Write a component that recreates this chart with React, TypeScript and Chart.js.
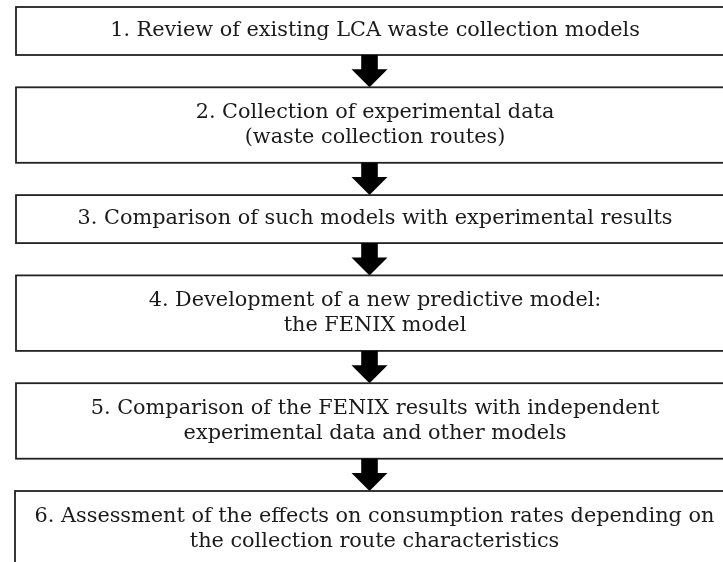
import React, { useEffect, useRef } from "react";
import { Chart, registerables } from "chart.js";

Chart.register(...registerables);

// Flowchart steps (each entry = lines of text in one box)
const STEP_LINES: string[][] = [
  ["1. Review of existing LCA waste collection models"],
  ["2. Collection of experimental data", "(waste collection routes)"],
  ["3. Comparison of such models with experimental results"],
  ["4. Development of a new predictive model:", "the FENIX model"],
  ["5. Comparison of the FENIX results with independent", "experimental data and other models"],
  ["6. Assessment of the effects on consumption rates depending on", "the collection route characteristics"],
];

const W = 723;
const H = 562;

const flowPlugin = {
  id: "flow",
  afterDraw(chart: any) {
    const { ctx, scales } = chart;
    const xs = scales.x;
    const ys = scales.y;
    const px = (v: number) => xs.getPixelForValue(v);
    const py = (v: number) => ys.getPixelForValue(v);

    const top0 = 7;
    const oneLine = 48;
    const twoLine = 75.5;
    const gap = 32.3;
    const left = 16;
    const right = 734;
    const arrowX = 369.5;
    const lineGap = 25;

    ctx.save();
    let y = top0;
    STEP_LINES.forEach((lines, i) => {
      const h = lines.length > 1 ? twoLine : oneLine;
      const t = y;
      const b = y + h;
      // box
      ctx.fillStyle = "#ffffff";
      ctx.strokeStyle = "#222222";
      ctx.lineWidth = 1.8;
      const l = i === STEP_LINES.length - 1 ? left - 1 : left;
      ctx.fillRect(px(l), py(t), px(right) - px(l), py(b) - py(t));
      ctx.strokeRect(px(l), py(t), px(right) - px(l), py(b) - py(t));
      // text
      ctx.fillStyle = "#1a1a1a";
      ctx.font = "20.8px 'DejaVu Serif'";
      ctx.textAlign = "center";
      ctx.textBaseline = "middle";
      const cx = (l + right) / 2;
      const cy = (t + b) / 2;
      lines.forEach((s, k) => {
        const off = (k - (lines.length - 1) / 2) * lineGap;
        ctx.fillText(s, px(cx), py(cy + off));
      });
      // arrow to next
      if (i < STEP_LINES.length - 1) {
        const a0 = b;
        const a1 = b + gap;
        const headH = 18;
        ctx.fillStyle = "#000000";
        ctx.beginPath();
        ctx.moveTo(px(arrowX - 8.3), py(a0));
        ctx.lineTo(px(arrowX + 8.3), py(a0));
        ctx.lineTo(px(arrowX + 8.3), py(a1 - headH));
        ctx.lineTo(px(arrowX + 18), py(a1 - headH));
        ctx.lineTo(px(arrowX), py(a1));
        ctx.lineTo(px(arrowX - 18), py(a1 - headH));
        ctx.lineTo(px(arrowX - 8.3), py(a1 - headH));
        ctx.closePath();
        ctx.fill();
      }
      y = b + gap;
    });
    ctx.restore();
  },
};

export default function App() {
  const ref = useRef<HTMLCanvasElement>(null);
  useEffect(() => {
    if (!ref.current) return;
    const chart = new Chart(ref.current, {
      type: "scatter",
      data: { datasets: [{ data: [] }] },
      options: {
        animation: false,
        responsive: false,
        layout: { padding: 0 },
        plugins: { legend: { display: false }, tooltip: { enabled: false } },
        scales: {
          x: { type: "linear", min: 0, max: W, display: false },
          y: { type: "linear", min: 0, max: H, reverse: true, display: false },
        },
      },
      plugins: [flowPlugin],
    });
    return () => chart.destroy();
  }, []);
  return (
    <div style={{ position: "fixed", left: 0, top: 0, width: W, height: H, background: "#fff" }}>
      <canvas ref={ref} width={W} height={H} />
    </div>
  );
}
